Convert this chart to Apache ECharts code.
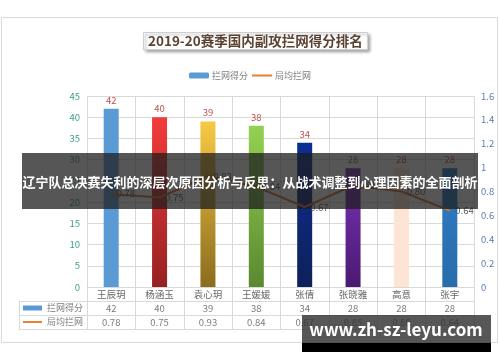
<!DOCTYPE html>
<html><head><meta charset="utf-8">
<script src="https://cdn.jsdelivr.net/npm/echarts@6/dist/echarts.min.js"></script>
<style>html,body{margin:0;padding:0;background:#fff;}#c{width:500px;height:362px;}</style>
</head><body><div id="c"></div>
<script>
// ---- data ----
const categories = ['王辰玥','杨涵玉','袁心玥','王媛媛','张倩','张晓雅','高意','张宇'];
const blockPoints = [42, 40, 39, 38, 34, 28, 28, 28];
const perSetBlocks = [0.78, 0.75, 0.93, 0.84, 0.67, 0.85, 0.80, 0.64];
const leftTicks = [0, 5, 10, 15, 20, 25, 30, 35, 40, 45];
const rightTicks = [0, 0.2, 0.4, 0.6, 0.8, 1, 1.2, 1.4, 1.6];
const seriesNames = ['拦网得分', '局均拦网'];
const titleText = '2019-20赛季国内副攻拦网得分排名';
const bannerText = '辽宁队总决赛失利的深层次原因分析与反思：从战术调整到心理因素的全面剖析';
const watermarkText = 'www.zh-sz-leyu.com';

// ---- styles ----
const barGradients = [
  ['#5b9bd5','#5b9bd5'], ['#f23b3b','#962121'], ['#f7c944','#8a6c1d'], ['#93d152','#5a892f'],
  ['#0b2e95','#0f2159'], ['#7b31b5','#4a1a72'], ['#fde4d4','#fde4d4'], ['#2e7cc6','#296caa']
];
const FONT = '"Noto Sans CJK SC", "Noto Sans", sans-serif';
const GRID = '#d9d9d9';
const lineColor = '#d2722f';

const chart = echarts.init(document.getElementById('c'), null, {renderer: 'canvas'});
const grad = (c) => new echarts.graphic.LinearGradient(0, 0, 0, 1, [{offset: 0, color: c[0]}, {offset: 1, color: c[1]}]);

const option = {
  backgroundColor: '#fff',
  animation: false,
  textStyle: {fontFamily: FONT},
  title: {
    text: titleText, left: 143, top: 32,
    padding: [2, 5, 2, 5],
    backgroundColor: '#fff', borderColor: '#cfcfcf', borderWidth: 1,
    shadowColor: 'rgba(0,0,0,0.35)', shadowBlur: 3, shadowOffsetX: 2, shadowOffsetY: 2,
    textStyle: {fontSize: 13.5, fontWeight: 'bold', color: '#5b4332', fontFamily: FONT}
  },
  legend: {
    data: [
      {name: seriesNames[0]},
      {name: seriesNames[1], itemStyle: {color: 'transparent', borderColor: 'transparent', borderWidth: 0},
       lineStyle: {color: '#ed7d31', width: 2}}
    ],
    top: 66, left: 'center',
    itemWidth: 20, itemHeight: 6, itemGap: 3,
    textStyle: {fontSize: 9, color: '#7f7f7f', padding: [0, 0, 0, -2]}
  },
  grid: [
    {left: 87, right: 26, top: 96, height: 191},
    {left: 87, right: 26, top: 301, height: 28},
    {left: 19, width: 68, top: 301, height: 28}
  ],
  xAxis: [
    {type: 'category', gridIndex: 0, data: categories,
     axisLine: {lineStyle: {color: GRID}},
     axisTick: {show: true, length: 14, lineStyle: {color: GRID}},
     splitLine: {show: true, lineStyle: {color: GRID}},
     axisLabel: {color: '#666', fontSize: 9.5, margin: 3}},
    {type: 'category', gridIndex: 1, data: categories,
     axisLine: {show: true, lineStyle: {color: GRID}}, axisTick: {show: false},
     axisLabel: {show: false}, splitLine: {show: true, lineStyle: {color: GRID}}},
    {type: 'category', gridIndex: 2, data: [''],
     axisLine: {show: true, lineStyle: {color: GRID}}, axisTick: {show: false},
     axisLabel: {show: false}, splitLine: {show: true, lineStyle: {color: GRID}}}
  ],
  yAxis: [
    {type: 'value', gridIndex: 0, min: leftTicks[0], max: leftTicks[leftTicks.length - 1],
     interval: leftTicks[1] - leftTicks[0],
     axisLine: {show: false}, axisTick: {show: false},
     splitLine: {lineStyle: {color: GRID}},
     axisLabel: {color: '#3c9d8c', fontSize: 9.5, margin: 7}},
    {type: 'value', gridIndex: 0, position: 'right', min: rightTicks[0], max: rightTicks[rightTicks.length - 1],
     interval: rightTicks[1] - rightTicks[0],
     axisLine: {show: false}, axisTick: {show: false}, splitLine: {show: false},
     axisLabel: {color: '#5a7db0', fontSize: 9.5, margin: 7}},
    {type: 'category', gridIndex: 1, data: [seriesNames[1], seriesNames[0]],
     axisLine: {show: false}, axisTick: {show: false}, axisLabel: {show: false},
     splitLine: {show: true, interval: 0, lineStyle: {color: GRID}}},
    {type: 'category', gridIndex: 2, data: [seriesNames[1], seriesNames[0]],
     axisLine: {show: true, lineStyle: {color: GRID}}, axisTick: {show: false},
     splitLine: {show: true, interval: 0, lineStyle: {color: GRID}},
     axisLabel: {
       inside: true, margin: 4, interval: 0, hideOverlap: false,
       formatter: (v) => (v === seriesNames[0] ? '{bar|}' : '{ln|}') + '{t|' + v + '}',
       rich: {
         bar: {width: 19, height: 5, backgroundColor: '#5b9bd5'},
         ln: {width: 19, height: 2, backgroundColor: '#ed7d31'},
         t: {fontSize: 9, color: '#7f7f7f', padding: [0, 0, 0, 5], fontFamily: FONT}
       }
     }}
  ],
  series: [
    {name: seriesNames[0], type: 'bar', xAxisIndex: 0, yAxisIndex: 0, barWidth: 15,
     itemStyle: {color: '#5b9bd5'},
     data: blockPoints.map((v, i) => ({value: v, itemStyle: {color: grad(barGradients[i])}})),
     label: {show: true, position: 'top', distance: 4, color: '#c0504d', fontSize: 9.5}},
    {name: seriesNames[1], type: 'line', xAxisIndex: 0, yAxisIndex: 1,
     data: perSetBlocks, symbol: 'circle', symbolSize: 1,
     lineStyle: {color: lineColor, width: 2}, itemStyle: {color: lineColor},
     label: {show: true, position: 'right', distance: 5, color: '#595959', fontSize: 9.5,
             formatter: (p) => p.value.toFixed(2)}},
    {type: 'scatter', xAxisIndex: 1, yAxisIndex: 2, symbolSize: 1, silent: true,
     itemStyle: {color: 'transparent'},
     data: categories.map((c, i) => [c, seriesNames[0], blockPoints[i]]),
     label: {show: true, position: 'inside', color: '#595959', fontSize: 9.5, formatter: (p) => String(p.value[2])}},
    {type: 'scatter', xAxisIndex: 1, yAxisIndex: 2, symbolSize: 1, silent: true,
     itemStyle: {color: 'transparent'},
     data: categories.map((c, i) => [c, seriesNames[1], perSetBlocks[i]]),
     label: {show: true, position: 'inside', color: '#595959', fontSize: 9.5, formatter: (p) => p.value[2].toFixed(2)}}
  ],
  graphic: [
    {type: 'rect', z: -10, shape: {x: 1.5, y: 17.5, width: 496, height: 325},
     style: {fill: '#fff', stroke: '#d9d9d9', lineWidth: 1}},
    {type: 'rect', z: 100, shape: {x: 22, y: 153, width: 456, height: 56},
     style: {fill: 'rgba(30,30,30,0.75)'}},
    {type: 'text', z: 101, x: 250, y: 182,
     style: {text: bannerText, fill: '#fff', fontSize: 13, fontWeight: 'bold', fontFamily: FONT,
             align: 'center', verticalAlign: 'middle'}},
    {type: 'rect', z: 100, shape: {x: 302, y: 315, width: 189, height: 28},
     style: {fill: 'rgba(50,50,50,0.82)'}},
    {type: 'rect', z: 100, shape: {x: 302, y: 343, width: 189, height: 9},
     style: {fill: '#000'}},
    {type: 'text', z: 101, x: 396, y: 330,
     style: {text: watermarkText, fill: '#fff', fontSize: 17, fontWeight: 'bold', fontFamily: FONT,
             align: 'center', verticalAlign: 'middle'}}
  ]
};
chart.setOption(option);
</script></body></html>
